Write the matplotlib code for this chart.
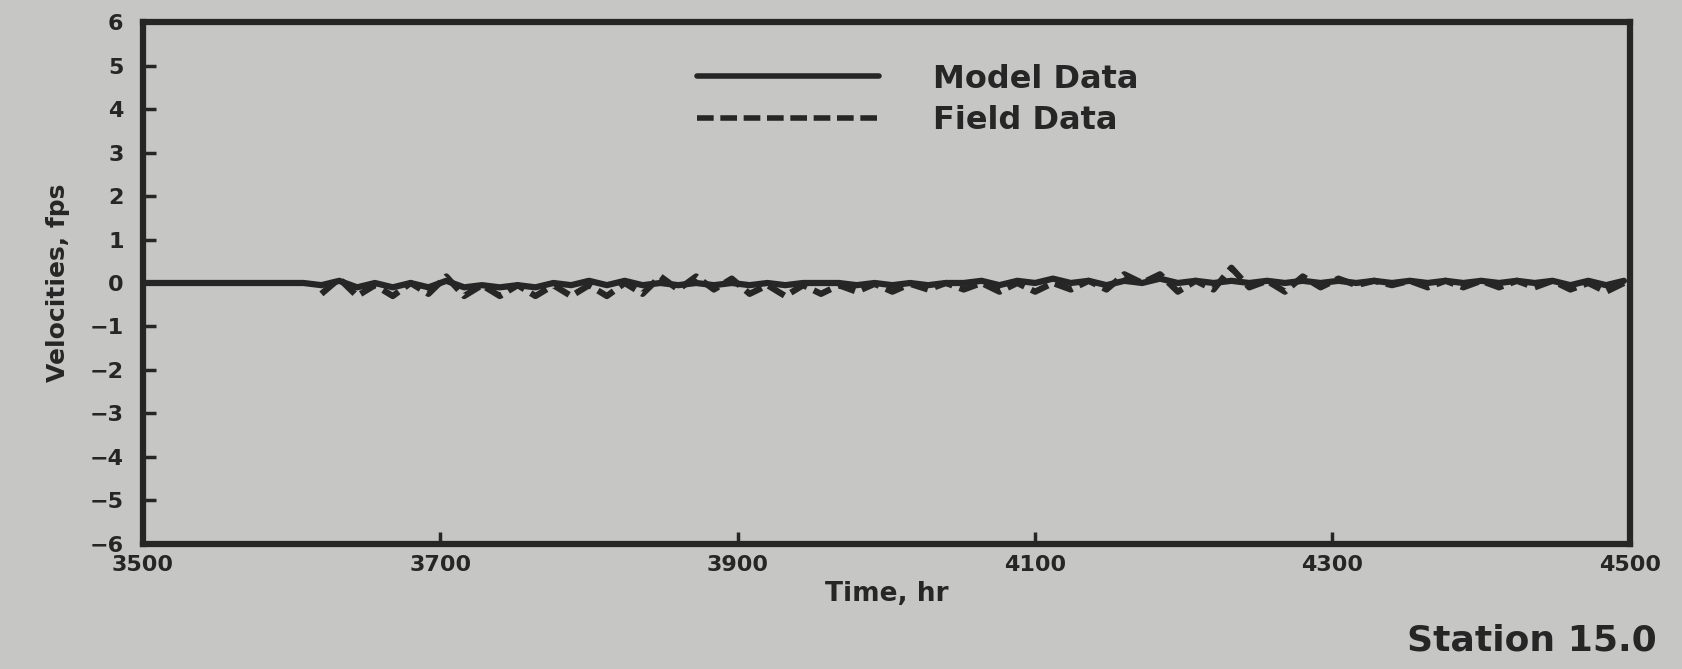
import numpy as np
import matplotlib
matplotlib.use("Agg")
import matplotlib.pyplot as plt

# model data, sampled every 12 hr from 3500 hr
model_start = 3500
model_step = 12
model_vel = [0.0, 0.0, 0.0, 0.0, 0.0, 0.0, 0.0, 0.0, 0.0, 0.0,
             -0.05, 0.05, -0.1, 0.0, -0.1, 0.0, -0.1, 0.05, -0.1, -0.05,
             -0.1, -0.05, -0.1, 0.0, -0.05, 0.05, -0.05, 0.05, -0.05, 0.0,
             -0.05, 0.0, -0.05, 0.0, -0.05, 0.0, -0.05, 0.0, 0.0, 0.0,
             -0.05, 0.0, -0.05, 0.0, -0.05, 0.0, 0.0, 0.05, -0.05, 0.05,
             0.0, 0.1, 0.0, 0.05, -0.05, 0.05, 0.0, 0.1, 0.0, 0.05,
             0.0, 0.05, 0.0, 0.05, 0.0, 0.05, 0.0, 0.05, 0.0, 0.05,
             0.0, 0.05, 0.0, 0.05, 0.0, 0.05, 0.0, 0.05, 0.0, 0.05,
             -0.05, 0.05, -0.05, 0.05]

# field data, sampled every 12 hr from 3620 hr
field_start = 3620
field_step = 12
field_vel = [-0.25, 0.1, -0.3, -0.05, -0.3, 0.0, -0.25, 0.15, -0.3, -0.05,
             -0.3, -0.05, -0.3, -0.05, -0.3, -0.05, -0.3, 0.0, -0.25, 0.15,
             -0.15, 0.15, -0.15, 0.1, -0.25, -0.05, -0.3, -0.05, -0.25, -0.05,
             -0.2, -0.02, -0.2, -0.02, -0.15, 0.0, -0.15, 0.0, -0.2, 0.0,
             -0.2, 0.0, -0.15, 0.05, -0.15, 0.2, 0.0, 0.2, -0.2, 0.05,
             -0.15, 0.35, -0.1, 0.05, -0.2, 0.15, -0.1, 0.1, -0.05, 0.05,
             -0.05, 0.05, -0.1, 0.05, -0.1, 0.05, -0.1, 0.05, -0.1, 0.05,
             -0.15, 0.0, -0.2, 0.0]

x_ticks = [3500, 3700, 3900, 4100, 4300, 4500]
y_ticks = list(range(-6, 7))

model_t = model_start + model_step * np.arange(len(model_vel))
field_t = field_start + field_step * np.arange(len(field_vel))

bg = "#c6c7c4"
ink = "#262626"

plt.rcParams["font.family"] = "DejaVu Sans"
plt.rcParams["font.weight"] = "bold"
plt.rcParams["axes.labelweight"] = "bold"

fig = plt.figure(figsize=(16.82, 6.69), dpi=100, facecolor=bg)
ax = fig.add_axes([0.085, 0.187, 0.884, 0.780])
ax.set_facecolor(bg)

ax.plot(model_t, model_vel, color=ink, lw=4.5, solid_capstyle="round",
        label="Model Data")
ax.plot(field_t, field_vel, color=ink, lw=4.5, linestyle=(0, (3, 1.2)),
        label="Field Data")

ax.set_xlim(3500, 4500)
ax.set_ylim(-6, 6)
ax.set_xticks(x_ticks)
ax.set_yticks(y_ticks)
ax.tick_params(direction="in", length=9, width=2.5, color=ink,
               labelcolor=ink, labelsize=16)
ax.tick_params(axis="x", pad=8)
ax.tick_params(axis="y", pad=14)
for s in ax.spines.values():
    s.set_linewidth(4.5)
    s.set_color(ink)

ax.set_xlabel("Time, hr", fontsize=19, color=ink, labelpad=4)
ax.set_ylabel("Velocities, fps", fontsize=18, color=ink, labelpad=14)

leg = ax.legend(loc="upper left", bbox_to_anchor=(697 / 1682, 0.905),
                bbox_transform=fig.transFigure, frameon=False, fontsize=23,
                handlelength=5.7, handletextpad=1.7, labelspacing=0.32,
                borderpad=0, borderaxespad=0, labelcolor=ink)
for h in leg.get_lines():
    h.set_linewidth(4)

fig.text(0.985, 0.042, "Station 15.0", ha="right", va="center",
         fontsize=26, color=ink)

fig.savefig("out.png", dpi=100, facecolor=bg)
